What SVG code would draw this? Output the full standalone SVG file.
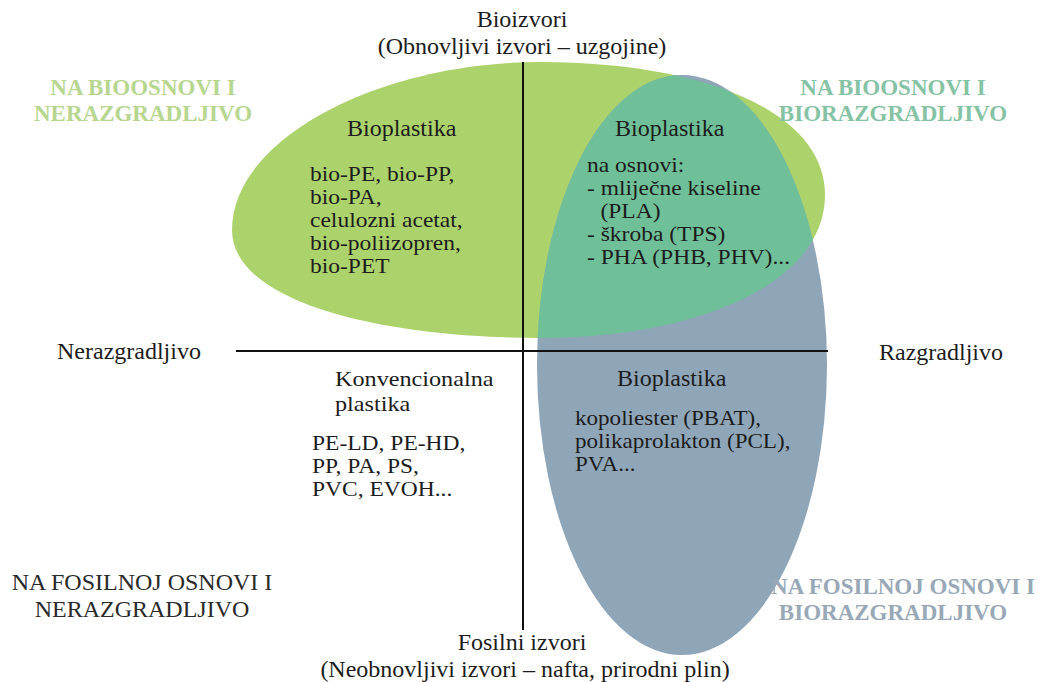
<svg xmlns="http://www.w3.org/2000/svg" width="1042" height="682" viewBox="0 0 1042 682">
<defs>
<style>
text{font-family:"Liberation Serif","Times New Roman",serif;font-size:24px;fill:#1c1c1c}
.b{font-size:21px}
.h{font-size:22px}
.c{text-anchor:middle}
.lbl{font-weight:bold;font-size:23px}
.lg{fill:#b7d68f}
.lt{fill:#85c3a4}
.lb{fill:#98a8b6}
.lk{font-size:24px;fill:#2a2a2a}
.axis{stroke:#111;stroke-width:2;fill:none}
</style>
<path id="greenShape" d="M232,230 C232,138 380,62 540,62 C700,62 825,110 825,195 C825,282 700,338 540,338 C380,338 232,302 232,230 Z"/>
<clipPath id="gclip"><use href="#greenShape"/></clipPath>
</defs>
<rect width="1042" height="682" fill="#ffffff"/>
<g id="shapes">
<use id="green-ellipse" href="#greenShape" fill="#acd26c"/>
<ellipse id="blue-ellipse" cx="682" cy="365" rx="145" ry="290" fill="#8fa6b9"/>
<ellipse id="overlap" cx="682" cy="365" rx="145" ry="290" fill="#6fc098" clip-path="url(#gclip)"/>
</g>
<g id="connectors">
<line class="axis" x1="523" y1="62" x2="523" y2="630"/>
<line class="axis" x1="236" y1="351" x2="828" y2="351"/>
</g>
<g id="axis-top"><text class="c" x="522" y="27">Bioizvori</text><text class="c" x="522" y="54">(Obnovljivi izvori – uzgojine)</text></g>
<g id="axis-bottom"><text class="c" x="522" y="650">Fosilni izvori</text><text class="c" x="525" y="677">(Neobnovljivi izvori – nafta, prirodni plin)</text></g>
<g id="axis-left"><text x="57" y="359">Nerazgradljivo</text></g>
<g id="axis-right"><text x="879" y="360">Razgradljivo</text></g>
<g id="label-tl"><text class="c lbl lg" x="143" y="95">NA BIOOSNOVI I</text><text class="c lbl lg" x="143" y="121">NERAZGRADLJIVO</text></g>
<g id="label-tr"><text class="c lbl lt" x="893" y="95">NA BIOOSNOVI I</text><text class="c lbl lt" x="893" y="121">BIORAZGRADLJIVO</text></g>
<g id="label-bl"><text class="c lk" x="142" y="590">NA FOSILNOJ OSNOVI I</text><text class="c lk" x="142" y="617">NERAZGRADLJIVO</text></g>
<g id="label-br"><text class="c lbl lb" x="903" y="594">NA FOSILNOJ OSNOVI I</text><text class="c lbl lb" x="893" y="620">BIORAZGRADLJIVO</text></g>
<g id="node-green">
<text x="347" y="136">Bioplastika</text>
<g transform="matrix(1.12,0,0,1,-37.2,0)">
<text class="b" x="310" y="181">bio-PE, bio-PP,</text>
<text class="b" x="310" y="204">bio-PA,</text>
<text class="b" x="310" y="227">celulozni acetat,</text>
<text class="b" x="310" y="250">bio-poliizopren,</text>
<text class="b" x="310" y="273">bio-PET</text>
</g>
</g>
<g id="node-overlap">
<text x="615" y="136">Bioplastika</text>
<g transform="matrix(1.12,0,0,1,-70.44,0)">
<text class="b" x="587" y="172">na osnovi:</text>
<text class="b" x="587" y="195">- mliječne kiseline</text>
<text class="b" x="599" y="218">(PLA)</text>
<text class="b" x="587" y="241">- škroba (TPS)</text>
<text class="b" x="587" y="264">- PHA (PHB, PHV)...</text>
</g>
</g>
<g id="node-conventional">
<g transform="matrix(1.1,0,0,1,-33.5,0)">
<text class="h" x="335" y="386">Konvencionalna</text>
<text class="h" x="335" y="411">plastika</text>
</g>
<g transform="matrix(1.12,0,0,1,-37.44,0)">
<text class="b" x="312" y="450">PE-LD, PE-HD,</text>
<text class="b" x="312" y="473">PP, PA, PS,</text>
<text class="b" x="312" y="496">PVC, EVOH...</text>
</g>
</g>
<g id="node-blue">
<text x="617" y="386">Bioplastika</text>
<g transform="matrix(1.1,0,0,1,-57.5,0)">
<text class="b" x="575" y="425">kopoliester (PBAT),</text>
<text class="b" x="575" y="448">polikaprolakton (PCL),</text>
<text class="b" x="575" y="471">PVA...</text>
</g>
</g>
</svg>
